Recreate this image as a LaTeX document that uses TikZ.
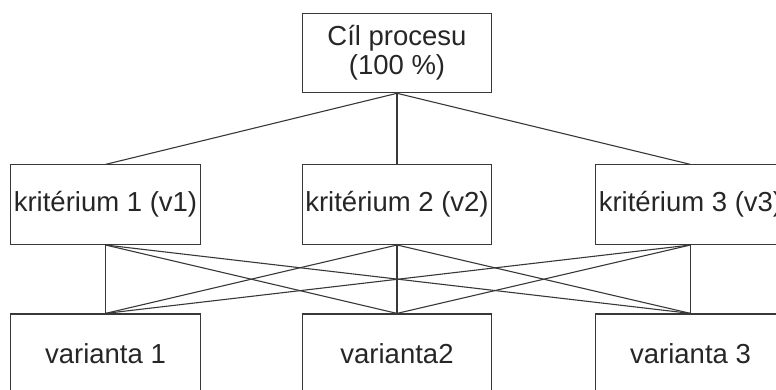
\documentclass[tikz,border=0pt]{standalone}
\usepackage{fontspec}
\setmainfont{Liberation Sans}
\usetikzlibrary{calc}
\tikzset{box/.style={draw=black!78, line width=1.1pt, minimum width=189.5pt, minimum height=79.5pt, inner sep=0pt, text=black!85, align=center, font=\fontsize{27.5}{29}\selectfont}}

\begin{document}
\begin{tikzpicture}[x=1pt, y=-1pt, line width=1.1pt, draw=black!78]
			%%%%% START %%%%%
			
			\useasboundingbox (0, 0) rectangle (776, 390);
			\clip (0, 0) rectangle (776, 390);
			
			\node[box] (goal) at (397, 53) {Cíl procesu\\(100 \%)};
			
			\node[box] (krit1) at (105.5, 204.7) {kritérium 1 (v1)};
			\node[box] (krit2) at (397, 204.7) {kritérium 2 (v2)};
			\node[box] (krit3) at (690.5, 204.7) {kritérium 3 (v3)};
			
			\node[box] (var1) at (105.5, 353.7) {varianta 1};
			\node[box] (var2) at (397, 353.7) {varianta2};
			\node[box] (var3) at (690.5, 353.7) {varianta 3};
			
			\draw (goal.south) -- (krit1.north);
			\draw (goal.south) -- (krit2.north);
			\draw (goal.south) -- (krit3.north);
			
			\draw (krit1.south) -- (var1.north);
			\draw (krit1.south) -- (var2.north);
			\draw (krit1.south) -- (var3.north);
			
			\draw (krit2.south) -- (var1.north);
			\draw (krit2.south) -- (var2.north);
			\draw (krit2.south) -- (var3.north);
			
			\draw (krit3.south) -- (var1.north);
			\draw (krit3.south) -- (var2.north);
			\draw (krit3.south) -- (var3.north);
			
			%%%%% END %%%%%
		\end{tikzpicture}
\end{document}
